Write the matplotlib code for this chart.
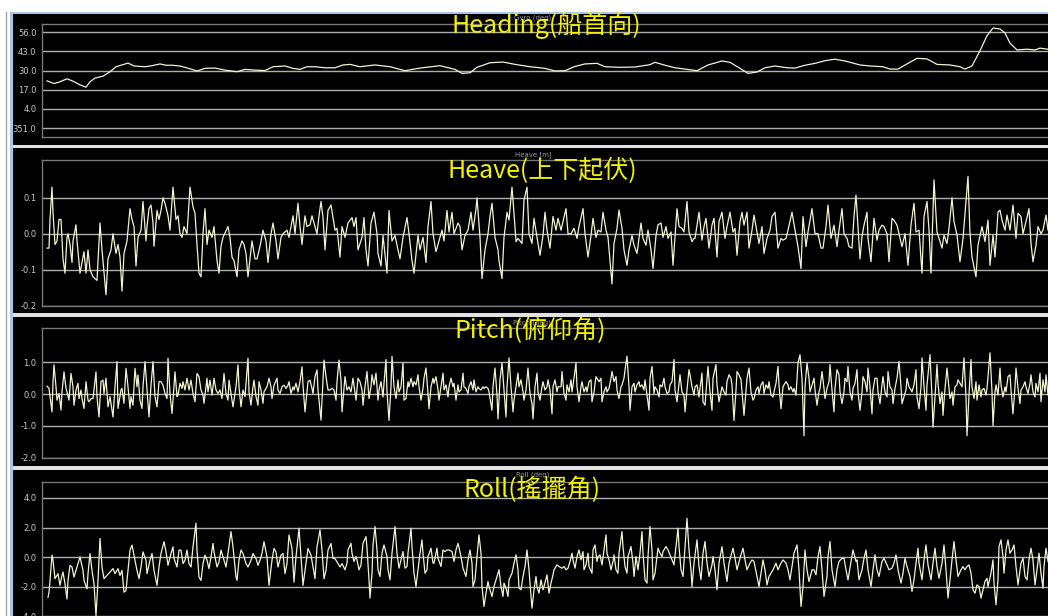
import matplotlib
matplotlib.use("Agg")
import matplotlib.pyplot as plt
from matplotlib.patches import Rectangle
from matplotlib.lines import Line2D

# ---- data: (time s, value) ----
heading = [(5, 23.0), (12, 21.2), (18, 22.4), (25, 24.4), (31, 22.8), (38, 20.3), (44, 18.7), (48, 22.4),
           (53, 24.9), (61, 26.2), (68, 29.2), (74, 32.6), (80, 33.8), (86, 35.1), (92, 33.1), (103, 32.6),
           (110, 33.3), (118, 34.5), (124, 33.6), (130, 33.6), (138, 33.1), (148, 31.2), (155, 29.7),
           (163, 31.5), (173, 31.7), (183, 30.3), (195, 29.2), (203, 30.8), (213, 30.3), (223, 30.0),
           (231, 32.6), (243, 33.1), (251, 31.5), (258, 30.8), (265, 32.6), (273, 32.6), (283, 31.9),
           (293, 31.9), (301, 33.8), (308, 34.2), (318, 32.6), (333, 33.8), (348, 32.6), (363, 29.9),
           (378, 31.7), (398, 33.3), (413, 30.8), (420, 28.1), (428, 28.5), (435, 32.2), (448, 35.3),
           (461, 35.8), (473, 34.2), (488, 32.6), (503, 31.5), (513, 29.7), (523, 29.9), (533, 32.8),
           (543, 34.5), (555, 34.9), (563, 32.6), (578, 32.2), (593, 32.4), (608, 34.0), (613, 35.6),
           (623, 33.6), (633, 31.9), (643, 31.0), (655, 29.9), (666, 33.8), (680, 36.5), (688, 35.6),
           (698, 31.5), (706, 28.1), (715, 29.0), (723, 31.9), (733, 33.1), (745, 31.9), (753, 31.7),
           (763, 33.6), (773, 34.9), (783, 36.7), (793, 37.7), (803, 36.5), (818, 33.8), (828, 33.1),
           (841, 32.6), (848, 31.0), (856, 31.0), (866, 34.9), (875, 38.3), (885, 37.9), (895, 34.2),
           (908, 33.8), (918, 32.6), (923, 31.0), (930, 33.1), (938, 43.5), (945, 53.6), (951, 58.9),
           (958, 58.2), (963, 55.5), (968, 48.6), (975, 44.0), (985, 44.5), (993, 44.0), (998, 45.2),
           (1006, 44.5)]

heave = [(5, -0.04), (7, -0.04), (8, 0.04), (10, 0.13), (11, 0.06), (13, -0.03), (15, -0.02), (17, 0.04),
         (19, 0.04), (21, -0.07), (23, -0.11), (25, -0.01), (26, 0.0), (28, -0.03), (30, -0.08), (31, -0.02),
         (34, 0.025), (35, -0.02), (38, -0.11), (40, -0.08), (42, -0.05), (44, -0.11), (46, -0.045),
         (48, -0.10), (51, -0.12), (55, -0.13), (58, 0.03), (60, -0.045), (64, -0.17), (66, -0.07),
         (69, -0.045), (71, 0.0), (74, -0.055), (76, -0.03), (78, -0.065), (80, -0.16), (82, -0.055),
         (85, -0.02), (88, 0.07), (90, 0.04), (92, 0.02), (94, -0.09), (96, -0.01), (99, 0.01), (101, 0.09),
         (104, -0.02), (105, 0.02), (107, 0.07), (109, 0.08), (111, 0.03), (112, -0.035), (115, 0.065),
         (117, 0.04), (119, 0.065), (121, 0.10), (123, 0.085), (126, 0.05), (128, 0.01), (131, 0.13),
         (134, 0.04), (136, 0.05), (138, 0.0), (140, -0.01), (142, 0.02), (145, 0.0), (148, 0.13),
         (151, 0.075), (153, 0.057), (155, -0.03), (157, -0.11), (159, -0.12), (161, 0.0), (163, 0.07),
         (165, -0.03), (167, 0.01), (170, -0.01), (172, 0.02), (175, -0.075), (177, -0.11), (179, -0.035),
         (181, -0.01), (186, 0.02), (188, -0.01), (190, -0.065), (192, -0.075), (195, -0.12), (197, -0.045),
         (200, -0.02), (202, -0.03), (204, -0.055), (206, -0.12), (209, -0.045), (210, -0.02), (213, -0.07),
         (215, -0.07), (218, -0.035), (221, 0.01), (224, -0.02), (226, -0.08), (229, 0.0), (231, 0.03),
         (234, -0.02), (236, -0.07), (239, -0.01), (241, 0.0), (245, 0.01), (247, -0.01), (251, 0.05),
         (253, 0.0), (256, 0.085), (258, 0.02), (260, -0.03), (263, 0.05), (265, 0.02), (268, 0.025),
         (270, 0.05), (273, 0.02), (275, 0.0), (277, 0.05), (279, 0.09), (281, 0.045), (283, -0.045),
         (286, 0.065), (289, 0.08), (291, 0.045), (293, 0.01), (295, 0.015), (298, -0.065), (300, 0.02),
         (303, -0.01), (306, 0.03), (310, 0.045), (312, 0.02), (314, 0.045), (316, -0.045), (320, -0.01),
         (322, 0.045), (324, -0.045), (326, -0.09), (329, 0.03), (332, 0.06), (335, 0.0), (336, -0.055),
         (339, -0.09), (341, -0.005), (345, -0.11), (347, 0.065), (350, -0.02), (353, -0.005), (356, -0.045),
         (358, -0.07), (361, -0.01), (365, 0.045), (367, 0.0), (370, -0.075), (372, -0.11), (376, -0.005),
         (378, -0.045), (381, -0.01), (384, -0.08), (386, 0.02), (389, 0.09), (391, 0.0), (394, -0.05),
         (396, -0.03), (400, 0.01), (402, -0.02), (405, 0.065), (407, 0.005), (410, 0.06), (412, 0.0),
         (416, 0.03), (418, 0.02), (420, -0.045), (423, -0.005), (426, 0.01), (429, 0.06), (431, 0.01),
         (434, 0.07), (435, 0.1), (438, -0.01), (440, -0.125), (443, -0.045), (446, 0.0), (448, 0.048),
         (450, 0.085), (453, -0.01), (456, -0.045), (457, -0.075), (460, -0.125), (462, -0.01), (465, 0.06),
         (467, 0.038), (470, 0.13), (472, 0.057), (474, -0.022), (476, -0.013), (480, -0.027), (482, 0.094),
         (485, 0.13), (487, 0.0), (490, -0.027), (492, 0.043), (495, -0.01), (498, -0.06), (501, -0.005),
         (503, 0.06), (505, 0.01), (508, -0.04), (511, 0.048), (514, 0.01), (516, 0.043), (519, 0.01),
         (521, 0.034), (524, 0.07), (526, 0.0), (529, 0.0), (532, 0.015), (535, -0.013), (537, 0.02),
         (541, 0.07), (543, 0.0), (546, -0.065), (549, -0.005), (551, 0.043), (554, -0.01), (556, 0.01),
         (559, 0.005), (561, 0.06), (564, 0.01), (566, -0.01), (570, -0.14), (572, -0.027), (575, 0.015),
         (577, 0.066), (580, 0.015), (582, -0.045), (585, -0.088), (587, -0.045), (590, -0.005),
         (592, -0.032), (595, -0.055), (597, -0.013), (599, 0.03), (601, -0.013), (604, -0.032), (606, 0.01),
         (609, -0.045), (611, -0.097), (614, -0.005), (616, 0.025), (619, 0.03), (621, -0.01), (624, 0.02),
         (626, -0.013), (629, 0.005), (631, -0.088), (635, 0.07), (637, 0.02), (640, 0.015), (642, 0.005),
         (645, 0.09), (647, 0.005), (650, -0.022), (652, -0.013), (653, -0.013), (657, 0.06), (660, -0.018),
         (662, 0.02), (664, 0.043), (667, -0.04), (670, 0.024), (672, 0.043), (675, -0.065), (677, 0.034),
         (680, 0.06), (683, -0.013), (685, 0.02), (688, 0.06), (691, 0.005), (693, 0.015), (695, -0.06),
         (698, 0.034), (700, 0.06), (702, 0.024), (705, 0.06), (707, -0.04), (710, 0.01), (712, 0.052),
         (715, 0.005), (717, -0.027), (720, 0.02), (722, -0.055), (725, -0.013), (728, 0.01), (730, 0.048),
         (733, 0.06), (736, -0.04), (739, -0.013), (741, -0.018), (744, -0.013), (746, 0.01), (750, 0.06),
         (753, 0.01), (756, -0.036), (759, -0.097), (761, 0.048), (764, -0.036), (766, 0.005), (770, 0.07),
         (773, 0.0), (776, 0.0), (779, -0.04), (781, -0.04), (784, 0.02), (786, 0.08), (789, -0.013),
         (792, 0.024), (795, -0.036), (797, 0.01), (800, 0.07), (802, 0.0), (805, -0.013), (807, -0.036),
         (810, -0.04), (812, 0.048), (814, 0.108), (816, 0.02), (818, -0.07), (820, -0.008), (822, 0.024),
         (825, 0.06), (826, -0.013), (829, -0.078), (832, 0.043), (835, -0.018), (837, 0.01), (840, 0.024),
         (842, 0.02), (845, 0.0), (847, -0.078), (850, 0.043), (852, 0.038), (855, 0.024), (857, 0.0),
         (860, -0.036), (863, 0.0), (866, -0.088), (869, 0.024), (872, 0.085), (874, 0.005), (877, 0.01),
         (880, -0.11), (882, 0.048), (885, 0.09), (887, 0.01), (889, -0.11), (892, 0.15), (895, 0.005),
         (897, -0.013), (900, -0.04), (902, -0.004), (905, -0.027), (907, 0.015), (910, 0.1), (912, 0.034),
         (915, -0.004), (918, -0.078), (921, -0.013), (926, 0.16), (928, 0.0), (930, -0.065), (934, -0.12),
         (936, -0.032), (940, 0.02), (943, -0.022), (946, 0.038), (948, -0.088), (951, -0.004),
         (953, -0.065), (956, 0.06), (958, 0.066), (960, 0.038), (963, 0.01), (965, 0.052), (968, 0.01),
         (971, 0.08), (974, -0.013), (976, 0.057), (979, 0.048), (981, 0.0), (984, 0.034), (987, 0.07),
         (989, -0.027), (991, -0.078), (994, -0.032), (996, 0.02), (999, 0.0), (1001, 0.01), (1004, 0.052),
         (1006, 0.01)]

pitch = [(5, 0.25), (7, 0.18), (8, -0.08), (10, -0.56), (11, 0.39), (12, 0.92), (14, 0.23), (15, -0.19),
         (17, 0.02), (19, -0.5), (20, 0.07), (22, 0.7), (24, 0.18), (25, 0.07), (27, -0.19), (29, 0.65),
         (31, 0.23), (32, -0.35), (34, 0.13), (36, 0.34), (37, -0.14), (39, 0.13), (40, -0.14), (42, -0.45),
         (44, 0.39), (46, -0.19), (47, -0.24), (49, -0.14), (51, -0.14), (54, 0.7), (55, -0.08), (57, -0.72),
         (59, 0.39), (61, 0.44), (62, 0.02), (64, 0.5), (66, -0.4), (68, -0.08), (71, -0.72), (73, 0.23),
         (75, 1.02), (76, -0.45), (79, 0.13), (80, 0.18), (82, -0.29), (84, 0.81), (86, 0.23), (88, -0.45),
         (89, -0.08), (91, -0.35), (93, 0.81), (95, 0.23), (96, 0.6), (98, -0.19), (100, -0.45), (101, 0.23),
         (103, 1.02), (105, 0.13), (107, -0.72), (109, 0.28), (111, 1.02), (113, -0.08), (115, -0.4),
         (117, 0.39), (119, 0.39), (121, 0.28), (123, 0.02), (125, -0.14), (126, 1.13), (128, 0.02),
         (130, -0.61), (131, -0.19), (133, 0.7), (135, -0.08), (136, -0.03), (138, 0.34), (140, 0.18),
         (141, 0.39), (143, 0.13), (145, 0.5), (147, 0.13), (149, 0.44), (151, 0.02), (153, -0.24),
         (155, 0.65), (157, 0.55), (159, 0.13), (161, -0.03), (162, -0.29), (165, 0.5), (166, 0.07),
         (168, 0.44), (170, -0.03), (172, 0.5), (174, 0.13), (176, 0.02), (178, 0.13), (180, -0.14),
         (182, 0.65), (184, 0.02), (186, -0.19), (187, 0.44), (189, 0.02), (191, -0.4), (194, 0.23),
         (196, 0.92), (197, 0.23), (199, -0.4), (201, 0.13), (203, -0.08), (206, 1.13), (207, 0.07),
         (209, -0.35), (211, 0.23), (212, 0.44), (214, -0.08), (216, -0.35), (217, 0.39), (219, 0.13),
         (221, -0.29), (222, 0.07), (225, 0.23), (227, 0.5), (229, 0.23), (230, -0.14), (232, 0.28),
         (235, 0.5), (236, 0.13), (238, 0.02), (240, 0.23), (242, 0.28), (244, 0.18), (246, 0.28),
         (247, 0.39), (249, 0.02), (251, 0.23), (252, 0.13), (254, 0.34), (256, 0.07), (258, 0.39),
         (260, 0.86), (261, 0.28), (263, -0.56), (265, 0.07), (266, 0.39), (268, 0.44), (270, 0.18),
         (271, 0.02), (273, 0.55), (275, 0.76), (276, 0.13), (279, -0.82), (280, -0.19), (282, 1.07),
         (284, 0.55), (286, 0.13), (288, 0.13), (290, 0.18), (292, 0.13), (294, -0.19), (295, 0.39),
         (297, 1.07), (299, 0.44), (300, -0.56), (302, 0.18),
         (303, 0.55), (305, 0.13), (307, 0.23), (309, 0.07), (311, 0.5), (314, -0.19), (316, 0.5),
         (318, 0.39), (320, 0.13), (321, -0.35), (323, 0.23), (325, 0.71), (327, -0.14), (329, 0.23),
         (330, 0.61), (332, 0.29), (334, 0.66), (336, -0.19), (337, 0.13), (339, 0.39), (341, -0.09),
         (342, 0.34), (344, 1.09), (345, 0.07), (347, -0.83), (349, 0.23), (350, 1.19), (352, 0.23),
         (354, -0.14), (356, 0.45), (357, 0.07), (359, 0.23), (361, 0.98), (362, -0.19), (364, -0.14),
         (366, 0.39), (367, 0.23), (369, 0.5), (371, 0.23), (372, 0.39), (374, 0.29), (376, 0.61),
         (377, 0.23), (379, -0.19), (381, 0.18), (382, 0.5), (384, 0.82), (386, 0.02), (387, -0.46),
         (389, 0.23), (391, 0.5), (392, 0.34), (394, 0.55), (396, 0.13), (397, -0.19), (399, 0.23),
         (401, 0.66), (402, 0.13), (404, 0.29), (406, -0.09), (407, 0.23), (409, 0.5), (411, 0.23),
         (412, 0.34), (414, -0.19), (416, 0.29), (417, 0.07), (419, 0.13), (421, 0.66), (422, 0.23),
         (424, 0.18), (426, 0.02), (427, 0.23), (429, 0.39), (431, 0.13), (432, 0.45), (434, 0.07),
         (436, 0.23), (437, 0.18), (439, 0.13), (441, 0.23), (442, 0.18), (444, 0.23), (446, 0.18),
         (447, 0.07), (450, -0.51), (451, 0.23), (453, 0.82), (455, -0.03), (456, -0.78), (458, 0.45),
         (460, 0.98), (462, 0.13), (464, -0.72), (465, 0.23), (467, 1.14), (469, 0.23), (471, -0.56),
         (472, -0.19), (474, 0.23), (476, 0.66), (477, 0.23), (479, 0.45), (481, 0.07), (482, -0.19),
         (484, 0.13), (486, 0.82), (488, 0.02), (490, -0.3), (491, -0.78), (493, 0.23), (495, 0.66),
         (496, 0.07), (498, -0.19), (500, 0.23), (501, 0.39), (503, 0.13), (505, 0.23), (506, 0.45),
         (508, 0.13), (510, -0.62), (511, 0.23), (513, 0.45), (515, 0.07), (516, 0.23), (519, 0.23),
         (520, 0.71), (522, 0.02), (524, -0.19), (525, 0.29), (527, 0.07), (529, 0.45), (530, 0.07),
         (532, 0.5), (534, 0.98), (535, 0.23), (537, -0.24), (539, 0.23), (540, 0.39), (542, 0.07),
         (544, 0.23), (545, 0.07), (547, 0.39), (549, 0.45), (550, -0.24), (552, 0.07), (554, 0.55),
         (555, 0.5), (557, 0.39), (559, 0.5), (560, -0.24), (562, 0.07), (564, 0.23), (565, 0.07),
         (567, 0.18), (569, 0.5), (570, 0.71), (572, 0.39), (574, 0.55), (575, 0.13), (577, -0.14),
         (579, 0.23), (580, 0.29), (582, 0.5), (584, 0.98), (585, 1.19), (587, 0.23), (588, -0.51),
         (590, 0.23), (592, 0.34), (593, 0.07), (595, 0.29), (597, 0.39), (598, 0.23), (600, 0.29),
         (602, 0.13), (603, 0.45), (605, -0.03), (607, -0.51), (608, 0.5), (610, 0.87), (612, 0.02),
         (613, 0.23), (615, 0.13), (617, -0.09), (618, 0.29), (620, 0.23), (622, 0.5), (623, 0.23),
         (625, 0.02), (627, 0.07), (628, 0.29), (630, 0.39), (632, 1.09), (633, 0.13), (635, -0.24),
         (637, 0.34), (638, 0.61), (640, 0.07), (642, -0.03), (643, -0.56), (645, 0.13), (647, 0.77),
         (648, 0.61), (650, 0.23), (652, -0.03), (653, 0.23), (655, 0.29), (657, -0.09),
         (658, 0.18), (660, 0.66), (661, -0.24), (663, -0.35), (665, 0.45), (666, 0.87), (668, 0.07),
         (670, -0.51), (671, 0.5), (674, 0.93), (675, 0.29), (677, -0.24), (679, 0.07), (680, 0.23),
         (682, 0.07), (684, -0.03), (685, 0.39), (687, 0.61), (689, 0.5), (690, 0.29), (692, -0.83),
         (694, 0.13), (695, 0.71), (697, 0.61), (699, 0.45), (700, 0.07), (702, -0.67), (704, 0.13),
         (705, 0.5), (707, 0.82), (709, 0.07), (711, -0.19), (712, -0.14), (714, 0.13), (716, 0.23),
         (717, 0.02), (719, 0.29), (721, 0.39), (722, 0.02), (724, 0.29), (726, 0.18), (727, 0.39),
         (729, -0.03), (731, -0.09), (732, 0.07), (734, 0.34), (736, 0.87), (737, 0.29), (739, -0.46),
         (741, 0.23), (742, 0.29), (744, 0.39), (746, 0.29), (747, 0.13), (749, 0.23), (751, 0.07),
         (752, 0.18), (754, -0.03), (756, 0.98), (758, 1.24), (760, 0.5), (762, -1.31), (763, 0.23),
         (765, 0.98), (767, 0.5), (768, 0.07), (770, 0.29), (772, 0.5), (773, 0.13), (775, -0.35),
         (777, 0.07), (778, 0.18), (780, 0.71), (782, 0.18), (783, -0.14), (785, 0.18), (787, 0.39),
         (788, 0.93), (790, 0.13), (792, -0.56), (793, 0.18), (795, 0.77), (797, 0.61), (798, 0.07),
         (800, -0.3), (802, 0.07), (803, 0.5), (805, 0.39), (806, 0.87), (808, 0.07), (810, -0.19),
         (811, 0.18), (813, 0.34), (815, 0.77), (816, 0.07), (818, -0.51), (820, 0.07), (821, 0.55),
         (823, 0.39), (825, 0.07), (826, 0.82), (828, 0.23), (830, -0.62), (831, 0.13), (833, 0.5),
         (835, 0.5), (836, 0.07), (838, -0.3), (840, 0.29), (841, 0.55), (843, 0.07), (845, -0.09),
         (846, 0.71), (848, 0.23), (850, 0.13), (851, -0.3), (853, 0.18), (855, 0.5), (857, 1.03),
         (859, 0.23), (860, -0.3), (862, -0.09), (864, 0.13), (865, 0.5), (867, 0.23), (869, 0.13),
         (870, 0.07), (872, 0.29), (874, 0.77), (875, -0.09), (877, -0.46), (879, 0.23), (880, 1.14),
         (882, 0.23), (884, -0.51), (885, 0.29), (888, 1.24), (890, -0.09), (891, -1.04), (893, -0.09),
         (895, 0.93), (896, 0.34), (898, -0.3), (900, 0.07), (901, -0.67), (903, 0.18), (905, 0.82),
         (906, 0.5), (908, -0.14), (910, 0.07), (911, -0.35), (913, 0.23), (915, 0.29), (916, 0.45),
         (918, 0.34), (920, 0.23), (922, 1.14), (924, -0.09), (925, -1.31), (927, -0.03), (929, 1.09),
         (930, 0.23), (932, -0.14), (934, 0.39), (935, -0.19), (937, 0.29), (939, -0.09), (940, 0.13),
         (942, 0.18), (944, -0.03), (945, 0.18), (948, 1.3), (950, 0.07), (951, -0.99), (953, 0.07),
         (954, 0.29), (956, -0.03), (958, 0.82), (959, 0.29), (961, -0.09), (963, 0.23), (964, 0.07),
         (966, 0.55), (968, 0.61), (969, 0.13), (971, -0.62), (973, 0.23), (974, 0.82), (976, 0.18),
         (978, -0.3), (979, 0.13), (981, 0.23), (983, 0.39), (984, 0.23), (986, 0.02), (988, 0.34),
         (989, 0.61), (991, 0.07), (993, -0.09), (994, 0.34), (996, 0.07), (998, 0.66), (999, -0.24),
         (1001, 0.45), (1003, 0.07), (1004, 0.61), (1006, -0.03)]

roll = [(6, -2.7), (7, -2.36), (8, -1.57), (10, 0.14), (11, -0.2), (13, -1.45), (15, -1.23), (16, -1.11),
        (18, -1.9), (20, -1.23), (21, -1.0), (23, -1.8), (25, -2.82), (26, -1.57), (28, -0.55), (30, -0.66),
        (32, -1.34), (35, -0.66), (38, 0.02), (41, -0.89), (42, -1.57), (45, -2.14), (46, -1.11), (48, 0.25),
        (50, -0.89), (52, -1.8), (54, -3.95), (56, -1.57), (58, 1.27), (60, -0.66), (62, -1.45), (65, -1.23),
        (68, -1.0), (71, -0.77), (73, -1.11), (76, -0.77), (78, -1.23), (80, -0.89), (82, -2.36),
        (84, -2.25), (86, -0.89), (88, 0.48), (90, 0.82), (92, 0.14), (95, -0.89), (97, -1.45), (99, -0.66),
        (101, 0.36), (104, -0.2), (105, -1.11), (108, -0.2), (110, 0.25), (112, -0.89), (115, -1.9),
        (117, -0.66), (119, 0.25), (122, 1.05), (124, 0.36), (126, -0.55), (129, 0.25), (131, 0.7),
        (132, -0.09), (135, -0.66), (137, 0.48), (139, 0.48), (141, -0.43), (143, -0.2), (145, 0.48),
        (147, -0.43), (149, -0.66), (151, 0.7), (154, 2.3), (155, 0.48), (157, -1.34), (159, -1.57),
        (161, -0.43), (163, 0.14), (165, -0.2), (167, -0.77), (169, 0.02), (171, 0.93), (172, 0.36),
        (175, -0.66), (177, -0.32), (179, 0.48), (181, 0.02), (184, -0.66), (186, 0.25), (189, 1.73),
        (191, 0.7), (194, -1.34), (195, -1.57), (197, -0.2), (199, 0.48), (201, 0.25), (204, -0.43),
        (206, -0.66), (209, -0.2), (211, 0.25), (214, -0.09), (216, -0.55), (218, -0.2), (220, 0.25),
        (222, 1.05), (225, 0.02), (227, -1.9), (230, -0.2), (232, 0.59), (234, 0.36), (236, -0.66),
        (239, 0.14), (241, 0.25), (243, -1.11), (245, -0.43), (247, 1.5), (250, 0.59), (252, -1.68),
        (254, 0.02), (257, 1.95), (259, 0.02), (261, -1.9), (264, -0.43), (266, 0.59), (269, 0.14),
        (271, -0.66), (273, -1.45), (275, 0.7), (278, 1.84), (280, 0.48), (282, -1.45), (284, -0.89),
        (286, 0.48), (289, 0.93), (291, -0.09), (293, -0.09), (295, -0.32), (298, -0.66), (300, -0.43),
        (303, -0.85), (305, -0.4), (306, 0.49), (309, 0.94), (310, 0.27), (312, -0.29), (314, 0.04),
        (315, -0.18), (317, -0.85), (319, -0.52), (321, 0.94), (324, 1.39), (325, 0.61), (327, -1.53),
        (328, -2.76), (330, -1.08), (331, 0.83), (333, 2.07), (335, 0.49), (336, -0.85), (338, -1.3),
        (340, 0.27), (342, 0.83), (345, 0.04), (346, -0.85), (348, -1.53), (350, 0.27), (353, 2.07),
        (355, 0.27), (357, -0.74), (359, -0.18), (361, 0.38), (363, -0.74), (365, -0.63), (366, 0.27),
        (369, 1.96), (370, 0.72), (372, -1.08), (374, -1.98), (376, -0.85), (378, 0.27), (380, 1.17),
        (381, 0.27), (383, -1.08), (385, -0.85), (386, 0.04), (389, 0.61), (391, -0.4), (392, -0.4),
        (395, 0.61), (396, -0.07), (399, -0.63), (401, 0.49), (403, 0.38), (405, 0.49), (407, 0.49),
        (410, 0.38), (412, -0.29), (414, 0.49), (416, 0.94), (419, 0.04), (421, -0.74), (424, -1.3),
        (426, -0.18), (428, 0.49), (430, -0.4), (431, -1.98), (433, -1.53), (435, 0.04), (437, 1.51),
        (439, 0.27), (440, -1.98), (442, -3.33), (444, -2.43), (446, -1.64), (447, -1.98), (450, -2.65),
        (452, -1.98), (455, -1.3), (457, -0.85), (459, -1.98), (461, -2.65), (462, -1.75), (464, -2.09),
        (466, -2.65), (467, -1.53), (470, -1.08), (472, -0.4), (474, 0.16), (476, -0.85), (477, -2.09),
        (479, -2.2), (481, -1.3), (483, -0.63), (485, 0.49), (487, -0.85), (489, -2.65), (490, -3.44),
        (492, -2.2), (494, -1.3), (495, -1.98), (497, -2.43), (499, -1.53), (501, -2.2), (502, -1.98),
        (505, -1.19), (507, -2.43), (509, -1.75), (511, -1.19), (512, -0.85), (515, -0.52), (517, -0.63),
        (520, -0.74), (522, -0.63), (524, -0.85), (526, -0.74), (528, -0.29), (530, 0.27), (531, -0.18),
        (533, -0.74), (535, 0.04), (537, 0.49), (539, -0.18), (541, 0.38), (542, -0.85), (544, -0.52),
        (546, 0.27), (547, -0.63), (550, -1.08), (551, 0.49), (553, 0.83), (555, -0.29), (556, 0.04),
        (558, 0.16), (560, -0.52), (562, 0.49), (564, 1.51), (565, 0.27), (567, -0.18), (569, -0.85),
        (571, -0.29), (572, 0.16), (574, -0.85), (576, -1.08), (577, 0.27), (580, 1.73), (581, 0.72),
        (583, -0.63), (585, -1.08), (586, 0.04), (589, 0.72), (591, -0.4), (592, -1.3), (594, 0.04),
        (596, -0.85), (598, 0.27), (600, 1.73), (601, 0.27), (603, -1.53), (605, -1.75), (606, 0.04),
        (608, 2.07), (610, 0.49), (611, -1.53), (613, -1.08), (615, 0.04), (616, 0.61), (618, 0.27),
        (620, 0.04), (621, 0.38), (624, 0.72), (626, 0.49), (628, 0.16), (630, -0.18), (632, -0.52),
        (634, 0.72), (636, 1.96), (637, 0.72), (639, -0.85), (641, -1.3), (643, 0.72), (645, 2.63),
        (647, 0.49), (649, -0.85), (650, -1.98), (652, -0.4), (655, 1.17),
        (657, -0.63), (659, -1.53), (661, 0.27), (663, 1.06), (665, -0.4), (667, -1.3), (670, -0.52),
        (671, 0.04), (673, -0.85), (675, -2.2), (677, -0.4), (680, 0.72), (682, -0.4), (685, -1.64),
        (687, -0.4), (691, 0.61), (693, -0.07), (695, -0.85), (698, -0.07), (701, 0.61), (703, -0.18),
        (705, -0.85), (708, -0.4), (710, -0.18), (712, -0.29), (715, -1.3), (717, -1.98), (719, -1.08),
        (721, -0.18), (723, -0.85), (725, -1.87), (727, -1.3), (729, -1.08), (731, -0.85), (734, -0.4),
        (736, -0.85), (739, -0.4), (741, -0.18), (744, -0.4), (746, -0.85), (748, -1.53), (750, -0.63),
        (752, 0.27), (755, 0.83), (757, -0.85), (759, -3.33), (761, -1.98), (763, 0.49), (765, -0.85),
        (767, -1.64), (770, -0.85), (772, -0.85), (774, -1.19), (776, 0.04), (778, 0.72), (780, -0.85),
        (782, -2.65), (785, -1.3), (786, 0.04), (788, 1.06), (790, -0.85), (793, -1.98), (795, -0.85),
        (797, -0.29), (800, -0.07), (802, -0.07), (804, -0.85), (806, -1.53), (809, -0.29), (811, 0.49),
        (814, -0.29), (815, -0.18), (817, -1.53), (820, -0.85), (822, -0.07), (824, 0.49), (826, -0.85),
        (829, -1.98), (831, -0.85), (833, 0.16), (835, -0.85), (837, -1.3), (840, -0.29), (842, -0.07),
        (845, -0.52), (847, -0.85), (850, -0.74), (852, -0.4), (854, 0.16), (856, -0.85), (859, -1.75),
        (861, -1.08), (863, -0.07), (865, -0.63), (868, -1.3), (870, -2.31), (872, -1.53), (874, -0.4),
        (876, 0.61), (877, -0.4), (880, -1.53), (882, -0.18), (884, 0.83), (886, -0.52), (889, -1.53),
        (891, -0.4), (893, 0.61), (895, -0.63), (897, -1.42), (900, -0.4), (902, 0.83), (904, -0.85),
        (906, -2.76), (908, -1.53), (910, -0.18), (912, 1.06), (914, -0.18), (916, -1.3), (919, -0.85),
        (921, -0.63), (923, -0.85), (925, -0.63), (927, -0.52), (929, -1.08), (931, -2.2), (933, -2.43),
        (935, -1.87), (937, -1.98), (939, -2.76), (941, -2.2), (943, -1.64), (945, -1.42), (946, -1.98),
        (949, -1.08), (951, -0.18), (952, -1.75), (954, -3.21), (956, -1.53), (957, 0.72), (959, 1.17),
        (961, 0.04), (962, -1.08), (964, 0.49), (966, 1.17), (968, 0.27), (970, 0.49), (972, 0.83),
        (974, -0.63), (976, -1.87), (979, -0.4), (981, -0.07), (983, -1.3), (985, -1.53), (987, -0.18),
        (989, 0.61), (991, -0.18), (993, -1.87), (995, -0.85), (997, 0.27), (999, -1.08), (1001, -2.09),
        (1002, -0.63), (1004, 0.61), (1006, -0.29)]

titles = ["Heading(船首向)", "Heave(上下起伏)", "Pitch(俯仰角)", "Roll(搖擺角)"]
units = ["Gyro (deg)", "Heave [m]", "Pitch (deg)", "Roll (deg)"]
heading_ticks = [56, 43, 30, 17, 4, -9]
heading_labels = ["56.0", "43.0", "30.0", "17.0", "4.0", "351.0"]
heave_ticks = [0.1, 0.0, -0.1, -0.2]
pitch_ticks = [1.0, 0.0, -1.0, -2.0]
roll_ticks = [4.0, 2.0, 0.0, -2.0, -4.0]

# ---- layout (screen pixels of the 1048x616 screenshot) ----
W, H = 1048, 616
fig = plt.figure(figsize=(W / 100, H / 100), dpi=100, facecolor="white")


def fx(x):
    return x / W


def fy(y):
    return 1 - y / H


# window chrome: light blue border and black panel backgrounds (behind the axes)
fig.add_artist(Line2D([fx(6), fx(6)], [fy(12), 0], color="#a0a0a0", lw=1, zorder=-10))
fig.add_artist(Rectangle((fx(10), 0), fx(3), fy(12), color="#a9c6e6", lw=0, zorder=-10))
fig.add_artist(Rectangle((fx(10), fy(14)), 1, 2 / H, color="#a9c6e6", lw=0, zorder=-10))
panel_rows = [(14, 145), (148, 313), (317, 466), (470, 617)]
for top, bottom in panel_rows:
    fig.add_artist(Rectangle((fx(13), fy(bottom)), 1, (bottom - top) / H, color="black", lw=0,
                             zorder=-10))
for top, bottom in [(145, 148), (313, 317), (466, 470)]:
    fig.add_artist(Rectangle((fx(13), fy(bottom)), 1, (bottom - top) / H, color="#e2e2e2", lw=0,
                             zorder=-10))

# axes frame positions and limits
frames = [(24.3, 137.3, (-15.3, 61.4)),
          (160.0, 305.5, (-0.2, 0.2056)),
          (328.3, 457.7, (-2.0, 2.07)),
          (481.7, 640.0, (-5.59, 5.1))]
series = [heading, heave, pitch, roll]
ticks = [heading_ticks, heave_ticks, pitch_ticks, roll_ticks]
labels = [heading_labels,
          ["%.1f" % v for v in heave_ticks],
          ["%.1f" % v for v in pitch_ticks],
          ["%.1f" % v for v in roll_ticks]]
# title centre x / baseline y, unit label centre x / y
title_pos = [(546, 33), (542, 178), (530, 338), (532, 497)]
unit_pos = [(533, 18), (533, 155), (532, 323), (533, 475)]

for i in range(4):
    top, bottom, ylim = frames[i]
    ax = fig.add_axes([fx(42), fy(bottom), fx(1052) - fx(42), (bottom - top) / H])
    ax.set_facecolor("black")
    t, v = zip(*series[i])
    ax.plot(t, v, color="#f3f3cf", lw=0.9, zorder=3)
    ax.set_xlim(0, 1010)
    ax.set_ylim(*ylim)
    ax.set_xticks([])
    ax.set_yticks(ticks[i])
    ax.set_yticklabels(labels[i])
    ax.tick_params(axis="y", length=0, pad=4, labelsize=6, labelcolor="#c8c8c8")
    ax.yaxis.grid(True, color="#b0b0b0", lw=1)
    ax.set_axisbelow(True)
    for side in ["left", "top", "bottom"]:
        ax.spines[side].set_color("#777777")
        ax.spines[side].set_linewidth(1)
    ax.spines["right"].set_visible(False)

    ux, uy = unit_pos[i]
    fig.text(fx(ux), fy(uy), units[i], ha="center", va="center", fontsize=5, color="#9a9a9a")
    tx, ty = title_pos[i]
    fig.text(fx(tx), fy(ty), titles[i], ha="center", va="baseline", fontsize=18, color="#f2f200",
             family=["Noto Sans CJK SC", "DejaVu Sans"])

fig.savefig("out.png", dpi=100, facecolor="white")
